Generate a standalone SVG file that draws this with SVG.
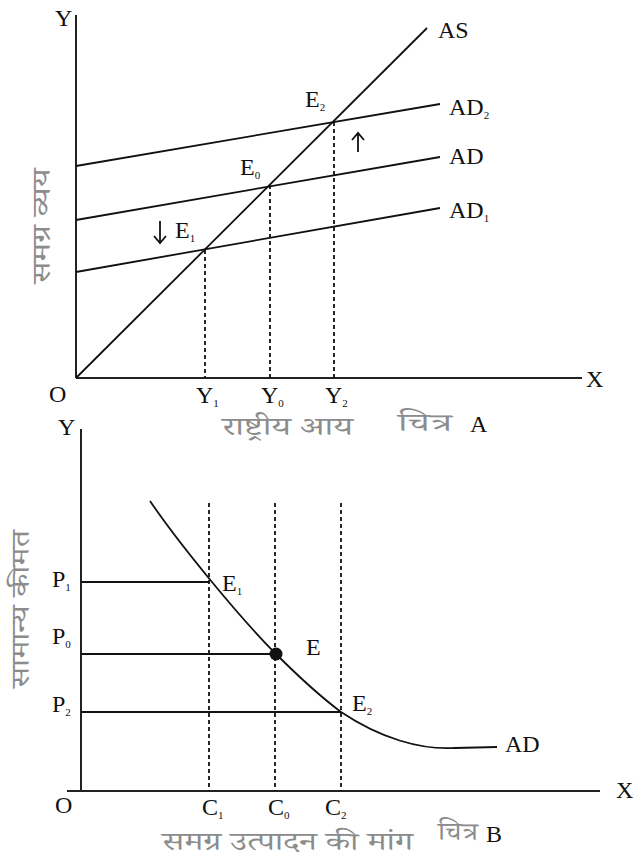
<svg xmlns="http://www.w3.org/2000/svg" width="636" height="867" viewBox="0 0 636 867">
<style>
.ax{stroke:#222;stroke-width:2;fill:none}
.ln{stroke:#111;stroke-width:1.8;fill:none}
.ds{stroke:#111;stroke-width:1.8;stroke-dasharray:4 3;fill:none}
.t{font-family:"Liberation Serif","DejaVu Serif","Times New Roman",serif;font-size:24px;fill:#111}
.s{font-size:11px}
.h{font-family:"Noto Serif Devanagari","Noto Sans Devanagari","Lohit Devanagari","Mangal","Liberation Serif",serif;font-size:25px;fill:#8c8c8c}
</style>
<rect width="636" height="867" fill="#fff"/>

<g id="chartA">
<g id="axesA">
<line class="ax" x1="76" y1="15" x2="76" y2="378"/>
<line class="ax" x1="76" y1="378" x2="582" y2="378"/>
<text class="t" x="55" y="26">Y</text>
<text class="t" x="586" y="387">X</text>
<text class="t" x="49" y="402">O</text>
</g>
<g id="connectorsA">
<line class="ln" x1="76" y1="378" x2="427" y2="28"/>
<line class="ln" x1="76" y1="166" x2="440" y2="104"/>
<line class="ln" x1="76" y1="220" x2="440" y2="157"/>
<line class="ln" x1="76" y1="272" x2="440" y2="208"/>
<line class="ds" x1="205" y1="250" x2="205" y2="378"/>
<line class="ds" x1="270" y1="185" x2="270" y2="378"/>
<line class="ds" x1="334" y1="122" x2="334" y2="378"/>
<path class="ln" d="M160,221 V243 M154,236 L160,243 L166,236"/>
<path class="ln" d="M358,152 V133 M352,140 L358,133 L364,140"/>
</g>
<g id="labelsA">
<text class="t" x="438" y="38">AS</text>
<text class="t" x="449" y="115">AD<tspan class="s" dy="4">2</tspan></text>
<text class="t" x="449" y="164">AD</text>
<text class="t" x="449" y="218">AD<tspan class="s" dy="4">1</tspan></text>
<text class="t" x="305" y="107">E<tspan class="s" dy="4">2</tspan></text>
<text class="t" x="240" y="175">E<tspan class="s" dy="4">0</tspan></text>
<text class="t" x="175" y="238">E<tspan class="s" dy="4">1</tspan></text>
<text class="t" x="196" y="403">Y<tspan class="s" dy="4">1</tspan></text>
<text class="t" x="261" y="403">Y<tspan class="s" dy="4">0</tspan></text>
<text class="t" x="325" y="403">Y<tspan class="s" dy="4">2</tspan></text>
<text class="h" transform="translate(50,226) rotate(-90)" text-anchor="middle" textLength="115" lengthAdjust="spacingAndGlyphs">समग्र व्यय</text>
<text class="h" x="222" y="435" textLength="131" lengthAdjust="spacingAndGlyphs">राष्ट्रीय आय</text>
<text class="h" x="398" y="431" textLength="54" lengthAdjust="spacingAndGlyphs">चित्र</text>
<text class="t" x="470" y="432">A</text>
</g>
</g>

<g id="chartB">
<g id="axesB">
<line class="ax" x1="81" y1="429" x2="81" y2="791"/>
<line class="ax" x1="67" y1="791" x2="600" y2="791"/>
<text class="t" x="58" y="435">Y</text>
<text class="t" x="616" y="798">X</text>
<text class="t" x="55" y="813">O</text>
</g>
<g id="connectorsB">
<line class="ln" x1="81" y1="582" x2="209" y2="582"/>
<line class="ln" x1="81" y1="654" x2="276" y2="654"/>
<line class="ln" x1="81" y1="712" x2="341" y2="712"/>
<line class="ds" x1="209" y1="503" x2="209" y2="791"/>
<line class="ds" x1="275" y1="503" x2="275" y2="791"/>
<line class="ds" x1="341" y1="503" x2="341" y2="791"/>
<path class="ln" d="M150,501 C180,545 240,618 276,654 C305,683 325,700 341,712 C380,738 420,750 455,748 L497,747"/>
<circle cx="276" cy="654" r="6.5" fill="#111"/>
</g>
<g id="labelsB">
<text class="t" x="52" y="587">P<tspan class="s" dy="4">1</tspan></text>
<text class="t" x="52" y="644">P<tspan class="s" dy="4">0</tspan></text>
<text class="t" x="52" y="712">P<tspan class="s" dy="4">2</tspan></text>
<text class="t" x="222" y="591">E<tspan class="s" dy="4">1</tspan></text>
<text class="t" x="306" y="655">E</text>
<text class="t" x="352" y="711">E<tspan class="s" dy="4">2</tspan></text>
<text class="t" x="505" y="752">AD</text>
<text class="t" x="202" y="815">C<tspan class="s" dy="4">1</tspan></text>
<text class="t" x="268" y="815">C<tspan class="s" dy="4">0</tspan></text>
<text class="t" x="325" y="815">C<tspan class="s" dy="4">2</tspan></text>
<text class="h" transform="translate(29,609) rotate(-90)" text-anchor="middle" textLength="158" lengthAdjust="spacingAndGlyphs">सामान्य कीमत</text>
<text class="h" x="162" y="850" textLength="251" lengthAdjust="spacingAndGlyphs">समग्र उत्पादन की मांग</text>
<text class="h" x="438" y="840" textLength="40" lengthAdjust="spacingAndGlyphs">चित्र</text>
<text class="t" x="486" y="842">B</text>
</g>
</g>
</svg>
